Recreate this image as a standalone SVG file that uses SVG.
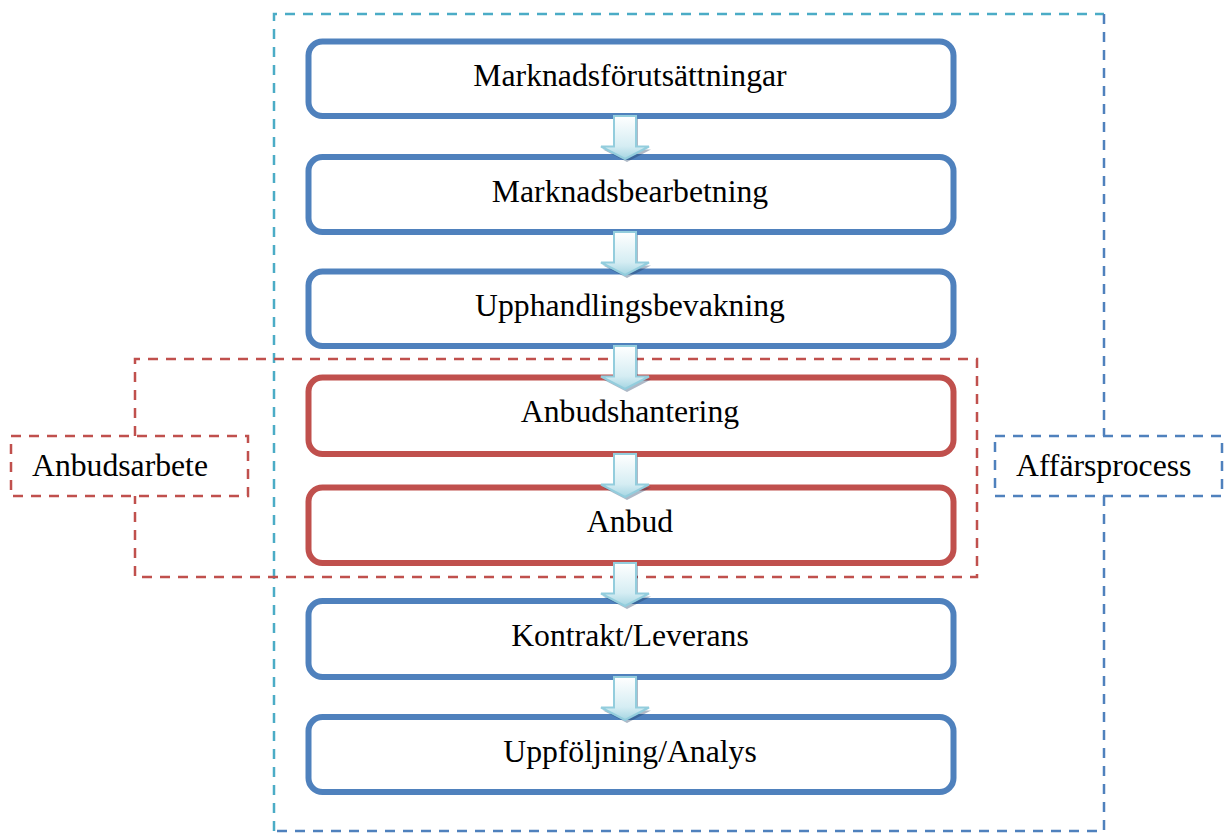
<svg xmlns="http://www.w3.org/2000/svg" width="1226" height="833" viewBox="0 0 1226 833">
<style>
.frame{fill:none;stroke-width:2.5;stroke-dasharray:10 8}
.teal{stroke:#4bacc6}
.blueD{stroke:#4f81bd}
.redD{stroke:#c0504d}
.lbl{fill:#fff}
.node{fill:#fff;stroke-width:6}
.blue{stroke:#4f81bd}
.red{stroke:#c0504d}
text{font-family:"Liberation Serif","Times New Roman",serif;font-size:31.7px;fill:#000}
.c{text-anchor:middle}
.arr{fill:url(#ag);stroke:#93cddd;stroke-width:2;stroke-linejoin:miter}
.sh{fill:#17375e;opacity:0.35}
</style>
<defs>
<linearGradient id="ag" x1="0" y1="0" x2="0" y2="1">
<stop offset="0" stop-color="#ffffff"/>
<stop offset="0.7" stop-color="#d5edf3"/>
<stop offset="1" stop-color="#a5d5e2"/>
</linearGradient>
<path id="arrow" d="M-11,0 H11 V30.5 H24 L0,43 L-24,30.5 H-11 Z"/>
</defs>
<g id="frames">
<g id="affarsprocess">
<path class="frame teal" d="M274,831 V14 H1104"/>
<path class="frame blueD" d="M1104,14 V436 M1104,496 V831 H274"/>
<rect class="frame blueD lbl" x="995" y="436" width="227" height="60"/>
<text x="1016" y="476">Affärsprocess</text>
</g>
<g id="anbudsarbete">
<path class="frame redD" d="M135,436 V359 H977 V577 H135 V496"/>
<rect class="frame redD lbl" x="11" y="436" width="237" height="60"/>
<text x="32" y="476">Anbudsarbete</text>
</g>
</g>
<g id="n1"><rect class="node blue" x="308.5" y="41.5" width="645" height="74.5" rx="14"/><text class="c" x="630" y="86">Marknadsförutsättningar</text></g>
<g id="n2"><rect class="node blue" x="308.5" y="157" width="645" height="75" rx="14"/><text class="c" x="630" y="201.5">Marknadsbearbetning</text></g>
<g id="n3"><rect class="node blue" x="308.5" y="271.5" width="645" height="74.5" rx="14"/><text class="c" x="630" y="316">Upphandlingsbevakning</text></g>
<g id="n4"><rect class="node red" x="308.5" y="377.5" width="645" height="76.5" rx="14"/><text class="c" x="630" y="422">Anbudshantering</text></g>
<g id="n5"><rect class="node red" x="308.5" y="487.5" width="645" height="75.5" rx="14"/><text class="c" x="630" y="532">Anbud</text></g>
<g id="n6"><rect class="node blue" x="308.5" y="601" width="645" height="76" rx="14"/><text class="c" x="630" y="645.5">Kontrakt/Leverans</text></g>
<g id="n7"><rect class="node blue" x="308.5" y="717" width="645" height="75" rx="14"/><text class="c" x="630" y="761.5">Uppföljning/Analys</text></g>
<g id="connectors">
<g transform="translate(625,116)"><use href="#arrow" class="sh" transform="translate(2,3)"/><use href="#arrow" class="arr"/></g>
<g transform="translate(625,232)"><use href="#arrow" class="sh" transform="translate(2,3)"/><use href="#arrow" class="arr"/></g>
<g transform="translate(625,346)"><use href="#arrow" class="sh" transform="translate(2,3)"/><use href="#arrow" class="arr"/></g>
<g transform="translate(625,454)"><use href="#arrow" class="sh" transform="translate(2,3)"/><use href="#arrow" class="arr"/></g>
<g transform="translate(625,563)"><use href="#arrow" class="sh" transform="translate(2,3)"/><use href="#arrow" class="arr"/></g>
<g transform="translate(625,677)"><use href="#arrow" class="sh" transform="translate(2,3)"/><use href="#arrow" class="arr"/></g>
</g>
</svg>
